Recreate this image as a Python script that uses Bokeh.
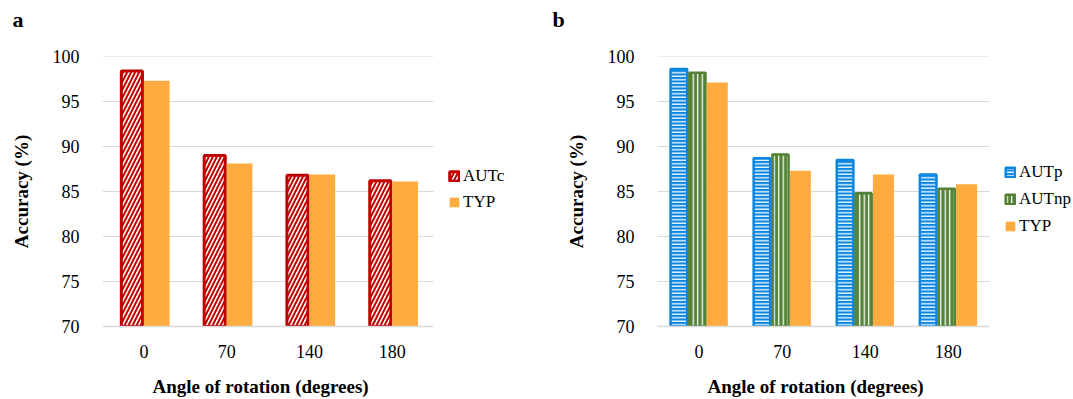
from bokeh.plotting import figure
from bokeh.models import Range1d, Legend, LegendItem, Title, ColumnDataSource, FixedTicker
from bokeh.layouts import row
from bokeh.embed import file_html
from bokeh.resources import INLINE

angles = ["0", "70", "140", "180"]
a_autc = [98.4, 89.0, 86.8, 86.2]
a_typ = [97.3, 88.1, 86.9, 86.1]
b_autp = [98.6, 88.7, 88.5, 86.9]
b_autnp = [98.2, 89.1, 84.8, 85.3]
b_typ = [97.1, 87.3, 86.9, 85.8]
y_ticks = [70, 75, 80, 85, 90, 95, 100]
x_title = "Angle of rotation (degrees)"
y_title = "Accuracy (%)"

RED = "#C00000"
ORANGE = "#FFAB40"
BLUE = "#0A86E0"
GREEN = "#538135"
GRID = "#D9D9D9"
FONT = "'Liberation Serif'"

N = len(angles)
centers = [i + 0.5 for i in range(N)]


def spacer(standoff):
    return Title(text=" ", text_font_size="1px", standoff=standoff)


def base_fig(width, left, cat_px, panel, title_offset):
    frame_w = width - left
    p = figure(width=width, height=399, x_range=Range1d(0, frame_w / cat_px),
               y_range=Range1d(70, 100), output_backend="svg", toolbar_location=None,
               min_border_left=left, min_border_right=0, min_border_top=56,
               min_border_bottom=73)
    p.outline_line_color = None
    p.xgrid.grid_line_color = None
    p.ygrid.grid_line_color = None
    # horizontal gridlines limited to the category area
    p.segment(x0=[0] * len(y_ticks), x1=[N] * len(y_ticks), y0=y_ticks, y1=y_ticks,
              line_color=GRID, line_width=1.2)
    p.yaxis.ticker = y_ticks
    p.yaxis.axis_line_color = None
    p.xaxis.ticker = FixedTicker(ticks=centers)
    p.xaxis.major_label_overrides = {c: a for c, a in zip(centers, angles)}
    p.xaxis.bounds = (0, N)
    p.xaxis.axis_line_color = GRID
    p.xaxis.axis_line_width = 1.5
    for ax in (p.xaxis[0], p.yaxis[0]):
        ax.major_tick_line_color = None
        ax.minor_tick_line_color = None
        ax.major_label_text_font = FONT
        ax.major_label_text_font_size = "18px"
        ax.major_label_text_color = "#000000"
        ax.axis_label_text_font = FONT
        ax.axis_label_text_font_size = "19px"
        ax.axis_label_text_font_style = "bold"
        ax.axis_label_text_color = "#000000"
    p.yaxis.axis_label = y_title
    p.xaxis.major_label_standoff = 12
    p.yaxis.major_label_standoff = 17
    p.yaxis.axis_label_standoff = 18
    # panel letter (above), with a spacer next to the frame
    p.add_layout(spacer(21), "above")
    p.add_layout(Title(text=panel, align="left", offset=title_offset, text_font=FONT,
                       text_font_size="22px", text_font_style="bold",
                       text_color="#000000", standoff=2), "above")
    # x-axis title (below), aligned to the category area
    p.add_layout(spacer(9), "below")
    p.add_layout(Title(text=x_title, align="left", offset=50, text_font=FONT,
                       text_font_size="19px", text_font_style="bold",
                       text_color="#000000", standoff=2), "below")
    return p


def make_legend(items, x, y, spacing):
    return Legend(items=items, location=(x, y), label_text_font=FONT,
                  label_text_font_size="17px", label_text_color="#000000",
                  glyph_width=12, glyph_height=12, label_height=20,
                  spacing=spacing, label_standoff=3, padding=0, margin=0,
                  border_line_color=None, background_fill_alpha=0)


# Panel a
src_a = ColumnDataSource(dict(xa=[c - 0.145 for c in centers], xb=[c + 0.155 for c in centers],
                              autc=a_autc, typ=a_typ))
pa = base_fig(537, 102, 82.8, "a", -90)
ra1 = pa.vbar(x="xa", top="autc", bottom=70, width=0.255, source=src_a,
              fill_color="white", line_color=RED, line_width=3,
              hatch_pattern="/", hatch_color=RED, hatch_scale=8, hatch_weight=2)
ra2 = pa.vbar(x="xb", top="typ", bottom=70, width=0.31, source=src_a,
              fill_color=ORANGE, line_color=None)
pa.add_layout(make_legend([LegendItem(label="AUTc", renderers=[ra1]),
                           LegendItem(label="TYP", renderers=[ra2])], 346, 114, 6))

# Panel b
src_b = ColumnDataSource(dict(xa=[c - 0.243 for c in centers], xb=[c - 0.02 for c in centers],
                              xc=[c + 0.219 for c in centers],
                              autp=b_autp, autnp=b_autnp, typ=b_typ))
pb = base_fig(536, 120, 83.1, "b", -105)
rb1 = pb.vbar(x="xa", top="autp", bottom=70, width=0.2, source=src_b,
              fill_color=BLUE, line_color=BLUE, line_width=2.5,
              hatch_pattern="-", hatch_color="white", hatch_scale=3.5, hatch_weight=1.3)
rb2 = pb.vbar(x="xb", top="autnp", bottom=70, width=0.195, source=src_b,
              fill_color=GREEN, line_color=GREEN, line_width=2.5,
              hatch_pattern="|", hatch_color="white", hatch_scale=4.5, hatch_weight=1.3)
rb3 = pb.vbar(x="xc", top="typ", bottom=70, width=0.253, source=src_b,
              fill_color=ORANGE, line_color=None)
pb.add_layout(make_legend([LegendItem(label="AUTp", renderers=[rb1]),
                           LegendItem(label="AUTnp", renderers=[rb2]),
                           LegendItem(label="TYP", renderers=[rb3])], 347, 90, 7))

layout = row(pa, pb)
open("out.html", "w").write(file_html(layout, INLINE))
